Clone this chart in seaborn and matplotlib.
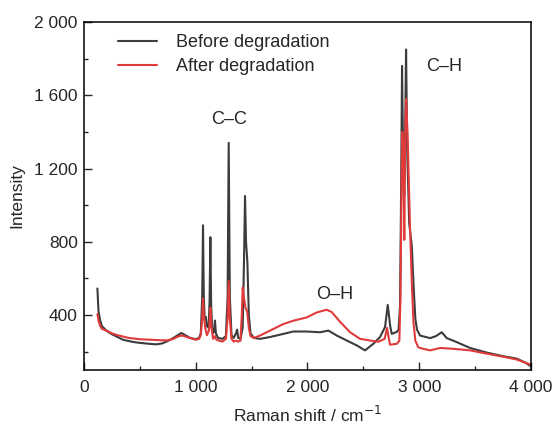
import pandas as pd
import matplotlib
matplotlib.use("Agg")
import matplotlib.pyplot as plt
from matplotlib.ticker import FuncFormatter, MultipleLocator
import seaborn as sns

# Before degradation (gray) - Raman shift / intensity
before_shift = [120, 130, 145, 160, 200, 250, 300, 350, 400, 450, 500, 550, 600, 650, 700,
                750, 800, 840, 870, 900, 950, 1000, 1030, 1045, 1058, 1065, 1072, 1080, 1090,
                1100, 1115, 1124, 1131, 1138, 1150, 1165, 1172, 1180, 1200, 1240, 1270, 1285,
                1295, 1305, 1320, 1340, 1360, 1370, 1380, 1400, 1420, 1432, 1441, 1450, 1462,
                1475, 1490, 1520, 1575, 1665, 1784, 1873, 1993, 2112, 2187, 2262, 2351, 2441,
                2515, 2589, 2649, 2694, 2718, 2740, 2754, 2799, 2815, 2828, 2838, 2846, 2855,
                2865, 2874, 2882, 2892, 2910, 2933, 2950, 2965, 2980, 3007, 3097, 3150, 3201,
                3246, 3336, 3455, 3604, 3753, 3873, 3950, 3992]
before_int = [545, 420, 370, 340, 315, 295, 280, 265, 258, 252, 248, 245, 242, 240, 245,
              258, 275, 290, 302, 292, 275, 268, 275, 300, 500, 890, 500, 380, 390,
              340, 330, 480, 825, 450, 300, 310, 370, 300, 275, 270, 285, 500,
              1340, 500, 290, 275, 300, 320, 275, 270, 330, 700, 1050, 800, 690,
              400, 300, 275, 270, 280, 297, 310, 310, 306, 315, 288, 261, 234,
              207, 243, 280, 335, 455, 340, 297, 308, 320, 450, 1100, 1760, 1300,
              1050, 1400, 1850, 1300, 900, 780, 550, 380, 320, 288, 274, 285, 306,
              274, 252, 220, 195, 175, 162, 140, 123]

# After degradation (red)
after_shift = [120, 130, 145, 160, 200, 250, 300, 400, 500, 600, 700, 750, 800, 850, 880,
               920, 1000, 1030, 1045, 1058, 1065, 1072, 1085, 1100, 1120, 1131, 1140, 1155,
               1172, 1185, 1240, 1270, 1285, 1295, 1305, 1320, 1340, 1360, 1380, 1400, 1412,
               1420, 1430, 1445, 1460, 1475, 1490, 1520, 1575, 1665, 1784, 1873, 1993, 2082,
               2172, 2217, 2296, 2381, 2470, 2560, 2634, 2690, 2712, 2725, 2739, 2799, 2822,
               2832, 2840, 2848, 2858, 2866, 2874, 2882, 2895, 2918, 2935, 2948, 2965, 2990,
               3007, 3097, 3186, 3300, 3455, 3604, 3753, 3873, 3992]
after_int = [405, 370, 340, 325, 315, 300, 290, 275, 268, 265, 262, 262, 270, 285, 288,
             280, 265, 270, 290, 380, 490, 400, 330, 290, 320, 440, 340, 270,
             285, 265, 255, 270, 380, 585, 380, 270, 255, 260, 255, 260, 400,
             550, 500, 440, 420, 330, 285, 275, 288, 315, 351, 369, 387, 414,
             429, 416, 360, 306, 270, 261, 254, 270, 330, 280, 238, 243, 260,
             500, 1000, 1400, 1300, 810, 1350, 1580, 1400, 864, 550, 362, 260, 225,
             220, 207, 220, 216, 207, 189, 172, 157, 130]

x_ticks = [0, 1000, 2000, 3000, 4000]
y_ticks = [400, 800, 1200, 1600, 2000]

df = pd.concat([
    pd.DataFrame({"shift": before_shift, "intensity": before_int, "state": "Before degradation"}),
    pd.DataFrame({"shift": after_shift, "intensity": after_int, "state": "After degradation"}),
])

sns.set_style("ticks")
plt.rcParams["font.family"] = ["Liberation Sans", "DejaVu Sans"]

fig = plt.figure(figsize=(5.54, 4.26), dpi=100)
ax = fig.add_axes([0.1516, 0.1315, 0.8069, 0.8169])

sns.lineplot(data=df, x="shift", y="intensity", hue="state", estimator=None, sort=False,
             palette={"Before degradation": "#3c3c3c", "After degradation": "#e03a3a"},
             linewidth=1.5, ax=ax)

ax.set_xlim(0, 4000)
ax.set_ylim(100, 2000)
ax.set_xticks(x_ticks)
ax.set_yticks(y_ticks)
ax.xaxis.set_minor_locator(MultipleLocator(500))
ax.yaxis.set_minor_locator(MultipleLocator(200))
fmt = FuncFormatter(lambda v, p: f"{v:,.0f}".replace(",", " "))
ax.xaxis.set_major_formatter(fmt)
ax.yaxis.set_major_formatter(fmt)
ax.tick_params(which="major", direction="in", length=5.5, width=1, labelsize=12.5)
ax.tick_params(axis="y", which="major", pad=4.5)
ax.tick_params(axis="x", which="major", pad=7)
ax.tick_params(which="minor", direction="in", length=3, width=1)
for s in ax.spines.values():
    s.set_visible(True)
    s.set_linewidth(1.1)
    s.set_color("black")

ax.set_xlabel("Raman shift / cm$^{-1}$", fontsize=12.5, labelpad=7)
ax.set_ylabel("Intensity", fontsize=12.5, labelpad=7)

ax.text(1298, 1469, "C\u2013C", fontsize=13, ha="center", va="center")
ax.text(2246, 513, "O\u2013H", fontsize=13, ha="center", va="center")
ax.text(3227, 1755, "C\u2013H", fontsize=13, ha="center", va="center")

ax.legend(title=None, frameon=False, fontsize=13, loc="upper left",
          bbox_to_anchor=(0.076, 0.965), borderaxespad=0, borderpad=0,
          handlelength=2.15, handletextpad=1.05, labelspacing=0.4)

fig.savefig("out.png", dpi=100)
